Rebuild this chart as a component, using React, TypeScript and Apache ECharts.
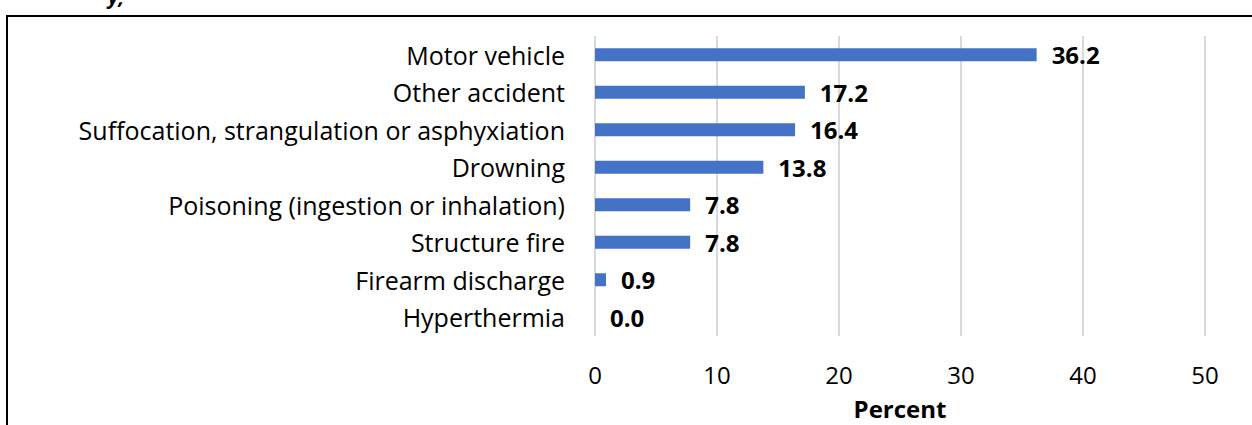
import React, { useEffect, useRef } from "react";
import * as echarts from "echarts";

const categories = [
  "Motor vehicle",
  "Other accident",
  "Suffocation, strangulation or asphyxiation",
  "Drowning",
  "Poisoning (ingestion or inhalation)",
  "Structure fire",
  "Firearm discharge",
  "Hyperthermia",
];
const values = [36.2, 17.2, 16.4, 13.8, 7.8, 7.8, 0.9, 0.0];
const xTicks = [0, 10, 20, 30, 40, 50];

const FONT = "Open Sans";

export default function App() {
  const ref = useRef<HTMLDivElement>(null);
  useEffect(() => {
    document.body.style.margin = "0";
    const chart = echarts.init(ref.current!, null, { renderer: "svg" });
    chart.setOption({
      animation: false,
      textStyle: { fontFamily: FONT },
      graphic: [
        {
          type: "rect",
          shape: { x: 7, y: 16, width: 1400, height: 600 },
          style: { fill: "none", stroke: "#000", lineWidth: 2 },
          silent: true,
        },
        {
          type: "text",
          x: 108,
          y: -14,
          style: { text: "y,", font: `italic bold 20px ${FONT}`, fill: "#000" },
          silent: true,
        },
      ],
      grid: { left: 595, right: 47, top: 36, bottom: 88 },
      xAxis: {
        type: "value",
        min: xTicks[0],
        max: xTicks[xTicks.length - 1],
        interval: 10,
        axisLine: { show: false },
        axisTick: { show: false },
        splitLine: { show: true, lineStyle: { color: "#d9d9d9", width: 2 } },
        axisLabel: { fontSize: 24, color: "#000", margin: 26, fontFamily: FONT },
        name: "Percent",
        nameLocation: "middle",
        nameGap: 60,
        nameTextStyle: { fontSize: 24, fontWeight: "bold", color: "#000", fontFamily: FONT },
      },
      yAxis: {
        type: "category",
        data: categories,
        inverse: true,
        axisLine: { show: false },
        axisTick: { show: false },
        axisLabel: { fontSize: 25, color: "#000", margin: 30, fontFamily: FONT },
      },
      series: [
        {
          type: "bar",
          data: values,
          barWidth: 13,
          itemStyle: { color: "#4472C4" },
          label: {
            show: true,
            position: "right",
            distance: 15,
            formatter: (p: any) => Number(p.value).toFixed(1),
            fontSize: 24,
            fontWeight: "bold",
            color: "#000",
            fontFamily: FONT,
          },
        },
      ],
    });
    return () => chart.dispose();
  }, []);
  return <div ref={ref} style={{ width: 1252, height: 425 }} />;
}
